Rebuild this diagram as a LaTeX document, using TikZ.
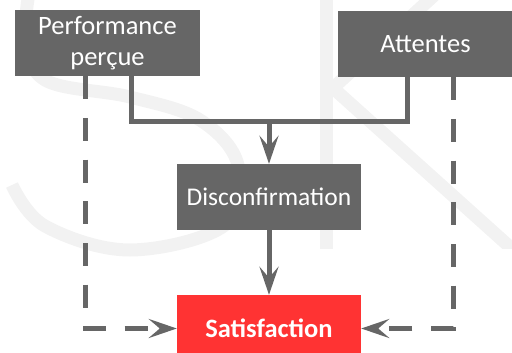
\documentclass[tikz,border=0pt]{standalone}
\usepackage{fontspec}
\setmainfont{Carlito}
\usetikzlibrary{arrows.meta}
\definecolor{boxgray}{HTML}{666666}
\definecolor{linegray}{HTML}{666666}
\definecolor{satred}{HTML}{FF3333}
\definecolor{markgray}{HTML}{F2F2F2}
\tikzset{
  box/.style={fill=boxgray, text=white, inner sep=0pt, minimum height=66pt,
    align=center, font=\fontsize{26.5}{31}\selectfont},
  conn/.style={draw=linegray, line width=5pt},
  tip/.style={-{Stealth[length=28pt, width=19pt, inset=11pt]}},
  dashline/.style={conn, dash pattern=on 23pt off 18.7pt},
  bgletter/.style={draw=markgray, line width=13pt}
}
\begin{document}
\begin{tikzpicture}[x=1pt, y=-1pt]
  \useasboundingbox (0,0) rectangle (512,353);
  % faint background lettering
  \begin{scope}
    \clip (0,0) rectangle (512,353);
    \draw[bgletter] plot[smooth, tension=0.6] coordinates
      {(30,-12) (26,35) (45,80) (130,97) (200,120) (238,165) (225,225) (130,250) (45,226) (12,185)};
  \end{scope}
  \begin{scope}
    \clip (0,0) rectangle (512,248);
    \draw[bgletter] (326,-10) -- (326,260);
    \draw[bgletter] (440,-10) -- (333,88) -- (530,265);
  \end{scope}
  % boxes
  \node[box, minimum width=185pt, yshift=1pt] (perf) at (107.5,44) {Performance\\perçue};
  \node[box, minimum width=175pt] (att) at (425.5,44) {Attentes};
  \node[box, minimum width=184pt, font=\fontsize{25.5}{31}\selectfont] (disc) at (269,197) {Disconfirmation};
  \node[box, fill=satred, minimum width=184pt, minimum height=67pt,
    font=\fontsize{26.5}{31}\selectfont\bfseries] (sat) at (269,328.5) {Satisfaction};
  % merging connector into the disconfirmation step
  \coordinate (join) at (269,122);
  \draw[conn] ([xshift=23.5pt]perf.south) |- (join) -| ([xshift=-18.5pt]att.south);
  \draw[conn, tip] (join) -- (disc.north);
  \draw[conn, tip] (disc.south) -- (sat.north);
  % direct dashed influences
  \draw[dashline, tip] ([xshift=-22.5pt]perf.south) |- (sat.west);
  \draw[dashline, tip] ([xshift=27.5pt]att.south) |- (sat.east);
\end{tikzpicture}
\end{document}
